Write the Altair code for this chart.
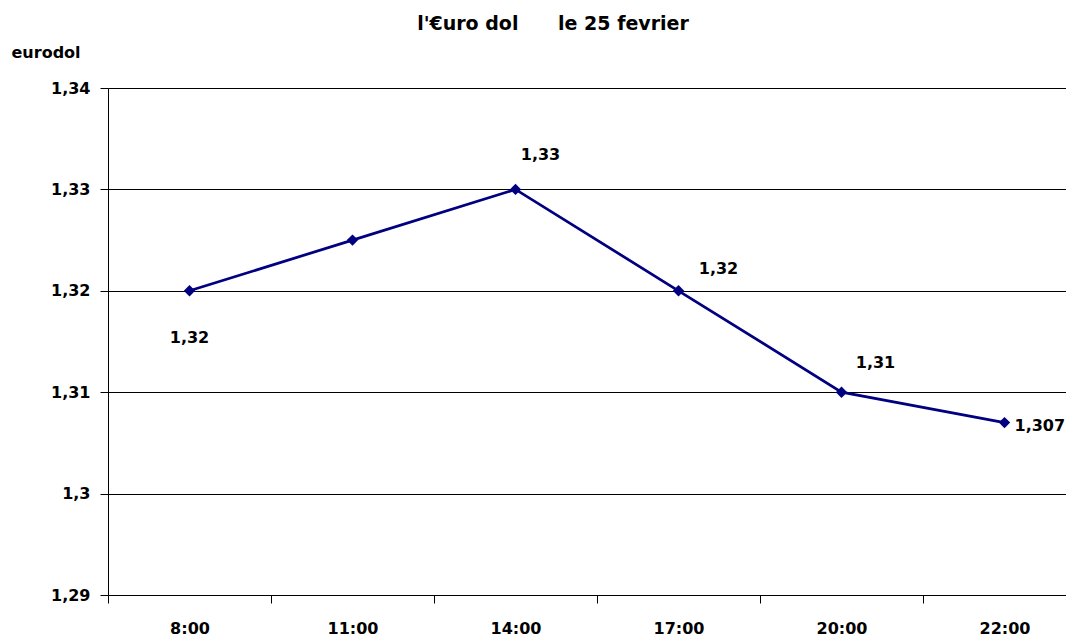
import altair as alt
import pandas as pd

hours = ["8:00", "11:00", "14:00", "17:00", "20:00", "22:00"]
rates = [1.32, 1.325, 1.33, 1.32, 1.31, 1.307]
point_labels = ["1,32", "", "1,33", "1,32", "1,31", "1,307"]
y_ticks = [1.29, 1.30, 1.31, 1.32, 1.33, 1.34]
title_text = "l'€uro dol" + "\u00a0" * 5 + " le 25 fevrier"

df = pd.DataFrame({"heure": hours, "eurodol": rates, "label": point_labels})

FONT = "DejaVu Sans"
NAVY = "#000080"

x_enc = alt.X(
    "heure:N",
    sort=hours,
    bandPosition=0.5,
    scale=alt.Scale(type="band", paddingInner=0, paddingOuter=0),
    axis=alt.Axis(
        title=None,
        tickBand="extent",
        labelAngle=0,
        labelFont=FONT,
        labelFontSize=16,
        labelFontWeight="bold",
        labelColor="black",
        labelBaseline="alphabetic",
        labelPadding=30,
        tickSize=8,
        tickColor="black",
        domainColor="black",
        grid=False,
    ),
)

y_enc = alt.Y(
    "eurodol:Q",
    scale=alt.Scale(domain=[1.29, 1.34], nice=False, zero=False),
    axis=alt.Axis(
        values=y_ticks,
        labelExpr="replace(format(datum.value, '.2~f'), '.', ',')",
        labelFont=FONT,
        labelFontSize=16,
        labelFontWeight="bold",
        labelColor="black",
        labelPadding=10,
        tickSize=8,
        tickColor="black",
        domainColor="black",
        grid=True,
        gridColor="black",
        gridWidth=1,
        title="eurodol",
        titleFont=FONT,
        titleFontSize=16,
        titleFontWeight="bold",
        titleColor="black",
        titleAngle=0,
        titleAlign="left",
        titleBaseline="alphabetic",
        titleX=-97,
        titleY=-31,
    ),
)

base = alt.Chart(df)

line = base.mark_line(
    color=NAVY,
    strokeWidth=2.75,
    point=alt.OverlayMarkDef(shape="diamond", size=130, filled=True, color=NAVY),
).encode(x=x_enc, y=y_enc)

# (category, dx, dy, align) – Excel data labels were placed individually
label_style = [
    ("8:00", 0, 52, "center"),
    ("14:00", 25, -29, "center"),
    ("17:00", 40, -17, "center"),
    ("20:00", 34, -24, "center"),
    ("22:00", 10, 8, "left"),
]

layers = [line]
for cat, dx, dy, align in label_style:
    layers.append(
        base.transform_filter(alt.datum.heure == cat)
        .mark_text(
            font=FONT,
            fontSize=16,
            fontWeight="bold",
            color="black",
            align=align,
            baseline="alphabetic",
            dx=dx,
            dy=dy,
        )
        .encode(x=alt.X("heure:N", sort=hours, bandPosition=0.5), y="eurodol:Q", text="label:N")
    )

chart = (
    alt.layer(*layers)
    .properties(
        width=978,
        height=507,
        title=alt.TitleParams(
            text=title_text,
            font=FONT,
            fontSize=19,
            fontWeight="bold",
            color="black",
            anchor="middle",
            dx=-44,
            offset=10,
        ),
        autosize=alt.AutoSizeParams(type="none"),
        padding={"left": 100, "top": 80, "right": -20, "bottom": 41},
    )
    .configure_view(stroke=None)
)

chart.save("out.html", embed_options={"renderer": "svg", "actions": False})
